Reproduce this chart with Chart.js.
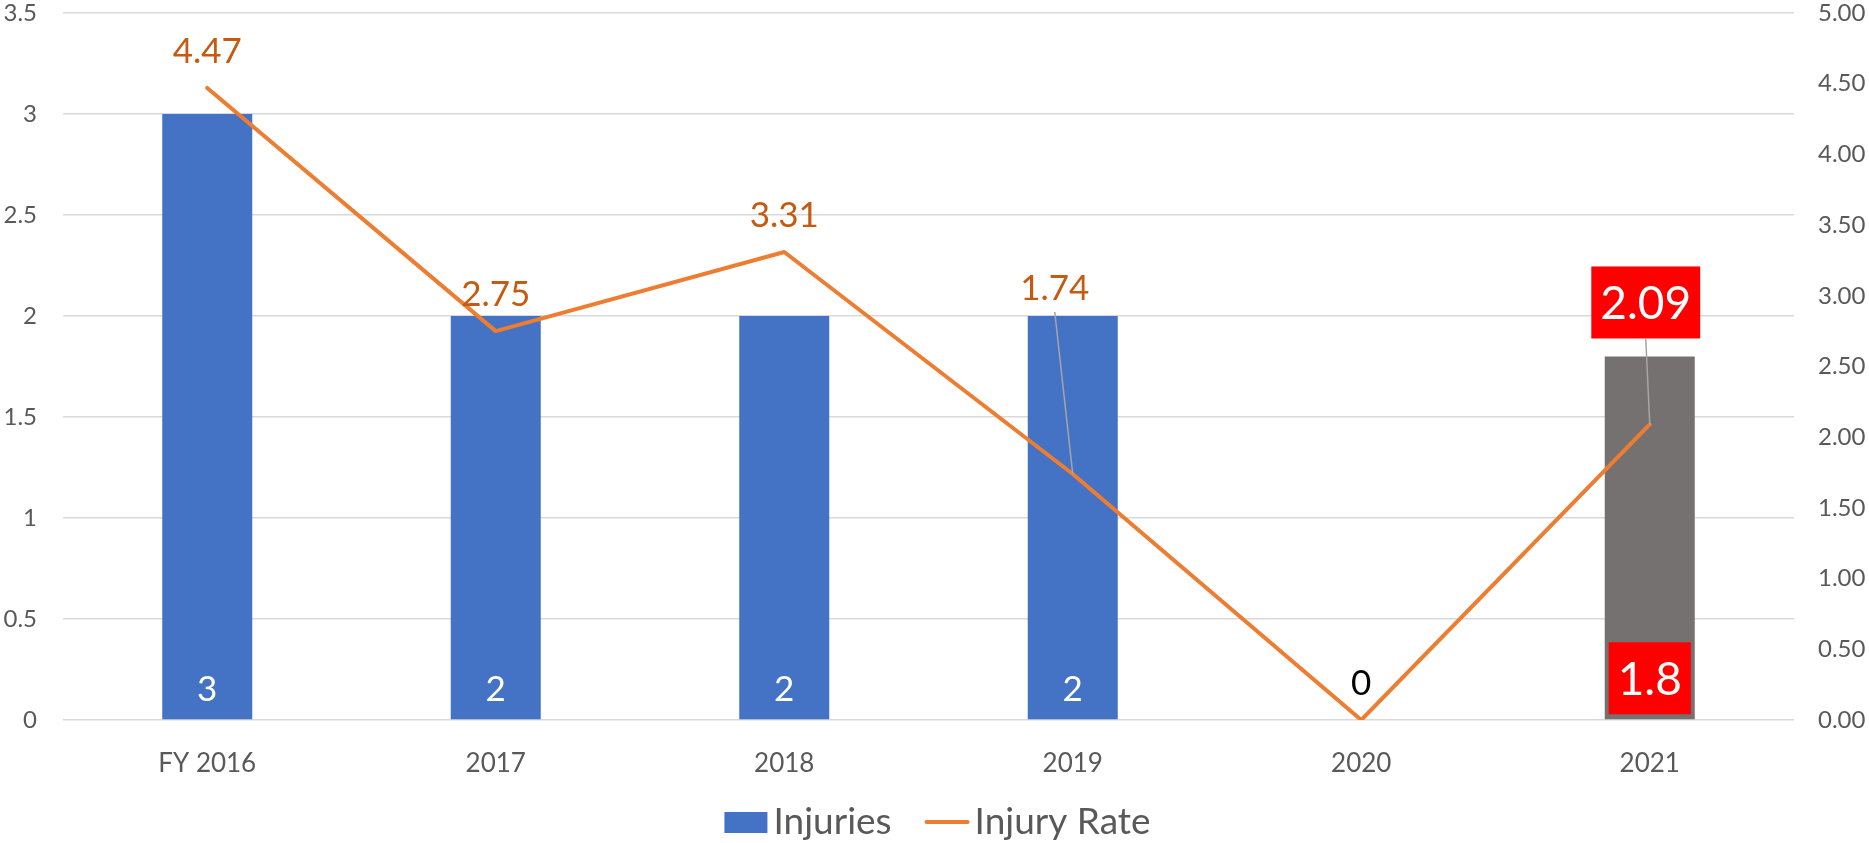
<!DOCTYPE html>
<html>
<head>
<meta charset="utf-8">
<script src="https://cdn.jsdelivr.net/npm/chart.js@4/dist/chart.umd.min.js"></script>
<style>
  html, body { margin: 0; padding: 0; background: #fff; }
  #wrap { width: 1869px; height: 843px; position: relative; }
</style>
</head>
<body>
<div id="wrap"><canvas id="chart"></canvas></div>
<script>
const years = ['FY 2016', '2017', '2018', '2019', '2020', '2021'];
const injuries = [3, 2, 2, 2, 0, 1.8];
const injuryRate = [4.47, 2.75, 3.31, 1.74, 0, 2.09];
const injuryTicks = [0, 0.5, 1, 1.5, 2, 2.5, 3, 3.5];
const rateTicks = [0, 0.5, 1, 1.5, 2, 2.5, 3, 3.5, 4, 4.5, 5];

const BLUE = '#4472C4';
const GREY_BAR = '#767171';
const ORANGE = '#ED7D31';
const LABEL_ORANGE = '#C55A11';
const TICK = '#595959';
const FONT = "Lato, 'Open Sans', sans-serif";

// label look per point (rate line) and per bar
const rateLabelStyle = [
  { color: LABEL_ORANGE, size: 35 },
  { color: LABEL_ORANGE, size: 35 },
  { color: LABEL_ORANGE, size: 35 },
  { color: LABEL_ORANGE, size: 35, dx: -18, dy: -187, leader: true },
  { color: '#000000', size: 35 },
  { color: '#ffffff', size: 46, box: '#FF0000', dx: -4, dy: -122, leader: true }
];
const barLabelStyle = [
  { color: '#ffffff', size: 35 },
  { color: '#ffffff', size: 35 },
  { color: '#ffffff', size: 35 },
  { color: '#ffffff', size: 35 },
  null,
  { color: '#ffffff', size: 46, box: '#FF0000' }
];

const fmt = v => String(v);

const labelsPlugin = {
  id: 'valueLabels',
  afterDatasetsDraw(chart) {
    const ctx = chart.ctx;
    ctx.save();
    ctx.textAlign = 'center';
    ctx.textBaseline = 'middle';

    // bar labels, inside at the base
    const barMeta = chart.getDatasetMeta(0);
    barMeta.data.forEach((bar, i) => {
      const st = barLabelStyle[i];
      if (!st) return;
      const txt = fmt(injuries[i]);
      ctx.font = `${st.size}px ${FONT}`;
      let cy = bar.base - 32;
      if (st.box) {
        const w = ctx.measureText(txt).width + 18;
        const h = 72;
        cy = bar.base - 5 - h / 2;
        ctx.fillStyle = st.box;
        ctx.fillRect(bar.x - w / 2, cy - h / 2, w, h);
      }
      ctx.fillStyle = st.color;
      ctx.fillText(txt, bar.x, cy + 2);
    });

    // line labels
    const lineMeta = chart.getDatasetMeta(1);
    lineMeta.data.forEach((pt, i) => {
      const st = rateLabelStyle[i];
      const txt = injuryRate[i] === 0 ? '0' : injuryRate[i].toFixed(2);
      ctx.font = `${st.size}px ${FONT}`;
      const cx = pt.x + (st.dx || 0);
      const cy = pt.y + (st.dy !== undefined ? st.dy : -38);
      const tw = ctx.measureText(txt).width;
      let bottom = cy + 25;
      if (st.box) {
        const w = tw + 18, h = 72;
        ctx.fillStyle = st.box;
        ctx.fillRect(cx - w / 2, cy - h / 2, w, h);
        bottom = cy + h / 2;
      }
      if (st.leader) {
        ctx.strokeStyle = '#A6A6A6';
        ctx.lineWidth = 1.5;
        ctx.beginPath();
        ctx.moveTo(cx, bottom);
        ctx.lineTo(pt.x, pt.y);
        ctx.stroke();
      }
      ctx.fillStyle = st.color;
      ctx.fillText(txt, cx, cy + 2);
    });
    ctx.restore();
  }
};

// legend drawn by hand so the line sample looks like Excel's
const legendPlugin = {
  id: 'customLegend',
  afterDraw(chart) {
    const ctx = chart.ctx;
    const ds = chart.data.datasets;
    ctx.save();
    ctx.font = `37px ${FONT}`;
    ctx.textBaseline = 'middle';
    ctx.textAlign = 'left';
    const w1 = ctx.measureText(ds[0].label).width;
    const w2 = ctx.measureText(ds[1].label).width;
    const total = 43 + 6 + w1 + 33 + 45 + 5 + w2;
    const cy = 822;
    let x = chart.width / 2 + 3 - total / 2;
    ctx.fillStyle = BLUE;
    ctx.fillRect(x, cy - 10, 43, 21);
    x += 49;
    ctx.fillStyle = TICK;
    ctx.fillText(ds[0].label, x, cy);
    x += w1 + 33;
    ctx.strokeStyle = ORANGE;
    ctx.lineWidth = 4;
    ctx.lineCap = 'round';
    ctx.beginPath();
    ctx.moveTo(x + 2, cy);
    ctx.lineTo(x + 43, cy);
    ctx.stroke();
    x += 50;
    ctx.fillText(ds[1].label, x, cy);
    ctx.restore();
  }
};

// side axes: fixed width, and no extra top/bottom room for the tick text
const fitSide = w => s => {
  s.width = w;
  s.paddingTop = 0;
  s.paddingBottom = 0;
};

new Chart(document.getElementById('chart'), {
  data: {
    labels: years,
    datasets: [
      {
        type: 'bar',
        label: 'Injuries',
        data: injuries,
        backgroundColor: injuries.map((v, i) => i === injuries.length - 1 ? GREY_BAR : BLUE),
        yAxisID: 'y',
        barPercentage: 0.312,
        categoryPercentage: 1,
        order: 1
      },
      {
        type: 'line',
        label: 'Injury Rate',
        data: injuryRate,
        borderColor: ORANGE,
        borderWidth: 4,
        borderCapStyle: 'round',
        borderJoinStyle: 'round',
        pointRadius: 0,
        tension: 0,
        yAxisID: 'y1',
        order: 0
      }
    ]
  },
  options: {
    responsive: true,
    maintainAspectRatio: false,
    animation: false,
    layout: { padding: { top: 13, left: 0, right: 0, bottom: 0 } },
    plugins: {
      legend: { display: false },
      tooltip: { enabled: false }
    },
    scales: {
      x: {
        grid: { display: false, drawTicks: false },
        border: { display: false },
        ticks: { color: TICK, font: { family: FONT, size: 26 }, padding: 28 },
        afterFit: s => { s.height = 123; }
      },
      y: {
        position: 'left',
        min: 0,
        max: injuryTicks[injuryTicks.length - 1],
        afterBuildTicks: s => { s.ticks = injuryTicks.map(v => ({ value: v })); },
        grid: { color: '#D9D9D9', lineWidth: 1.5, drawTicks: false },
        border: { display: false },
        ticks: { color: TICK, font: { family: FONT, size: 24, lineHeight: 1 }, padding: 26, callback: v => String(v) },
        afterFit: fitSide(63)
      },
      y1: {
        position: 'right',
        min: 0,
        max: rateTicks[rateTicks.length - 1],
        afterBuildTicks: s => { s.ticks = rateTicks.map(v => ({ value: v })); },
        grid: { display: false, drawTicks: false },
        border: { display: false },
        ticks: { color: TICK, font: { family: FONT, size: 24, lineHeight: 1 }, padding: 24, callback: v => Number(v).toFixed(2) },
        afterFit: fitSide(75)
      }
    }
  },
  plugins: [labelsPlugin, legendPlugin]
});
</script>
</body>
</html>
